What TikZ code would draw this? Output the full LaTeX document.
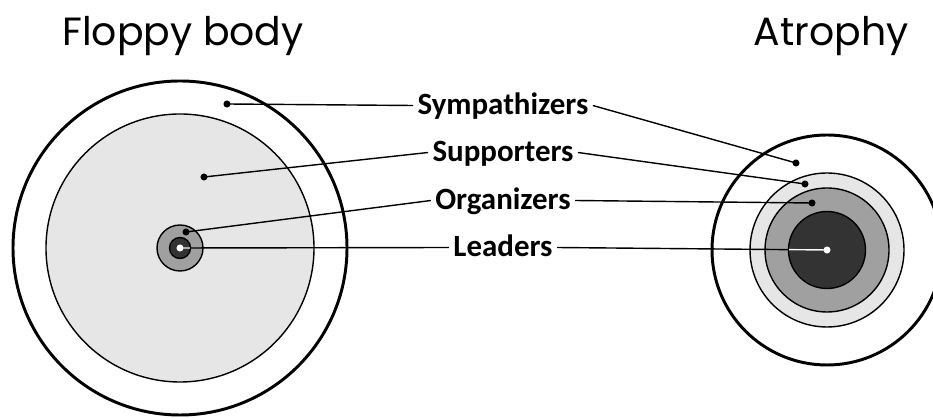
\documentclass[tikz,border=0pt]{standalone}
\usepackage{fontspec}
\setmainfont{Carlito}
\newfontfamily\titlefont{Poppins}
\definecolor{ringlight}{HTML}{E6E6E6}
\definecolor{ringmid}{HTML}{A0A0A0}
\definecolor{ringdark}{HTML}{333333}
\tikzset{
  rolelabel/.style={font=\fontsize{22}{22}\selectfont\bfseries, inner xsep=3pt, inner ysep=0pt,
    text height=13.5pt, text depth=0pt, anchor=base},
  titlelabel/.style={font=\titlefont\fontsize{28}{28}\selectfont, anchor=base},
  leader/.style={line width=1pt},
  dot/.style={circle, fill=black, inner sep=0pt, minimum size=5pt}
}
\begin{document}
\begin{tikzpicture}[x=0.025cm, y=0.025cm]
        \useasboundingbox (0,0) rectangle (933,418);

        % Centres of the two groups
        \coordinate (cl) at (180,170);
        \coordinate (cr) at (827,168);

        % Floppy body (left)
        \draw[line width=2.1pt, fill=white] (cl) circle (167);
        \draw[line width=1pt, fill=ringlight] (cl) circle (134);
        \draw[line width=1pt, fill=ringmid] (cl) circle (23);
        \draw[line width=1pt, fill=ringdark] (cl) circle (10.5);

        % Atrophy (right)
        \draw[line width=2.1pt, fill=white] (cr) circle (115);
        \draw[line width=1pt, fill=ringlight] (cr) circle (77);
        \draw[line width=1pt, fill=ringmid] (cr) circle (62);
        \draw[line width=1pt, fill=ringdark] (cr) circle (38.5);

        % Titles
        \node[titlelabel] (floppy) at (183,372) {Floppy body};
        \node[titlelabel] (atrophy) at (831,372) {Atrophy};

        % Labels in the middle
        \node[rolelabel] (symp) at (503,303) {Sympathizers};
        \node[rolelabel] (supp) at (503,256) {Supporters};
        \node[rolelabel] (orga) at (503,208) {Organizers};
        \node[rolelabel] (lead) at (503,161) {Leaders};

        % Points in the rings
        \coordinate (sympL) at (227,314);
        \coordinate (suppL) at (204,241);
        \coordinate (orgaL) at (186,186);
        \coordinate (sympR) at (796,255);
        \coordinate (suppR) at (805,234);
        \coordinate (orgaR) at (812,215);

        % Leader lines
        \foreach \n in {symp,supp,orga} {
          \draw[leader] (\n.west) -- (\n L);
          \draw[leader] (\n.east) -- (\n R);
          \node[dot] at (\n L) {};
          \node[dot] at (\n R) {};
        }
        \draw[leader] (lead.west) -- (cl);
        \draw[leader] (lead.east) -- (cr);

        % white part inside the dark core
        \begin{scope}
          \clip (cl) circle (10);
          \draw[leader, white] (lead.west) -- (cl);
        \end{scope}
        \begin{scope}
          \clip (cr) circle (38);
          \draw[leader, white] (lead.east) -- (cr);
        \end{scope}
        \node[dot, fill=white] at (cl) {};
        \node[dot, fill=white] at (cr) {};

      \end{tikzpicture}
\end{document}
